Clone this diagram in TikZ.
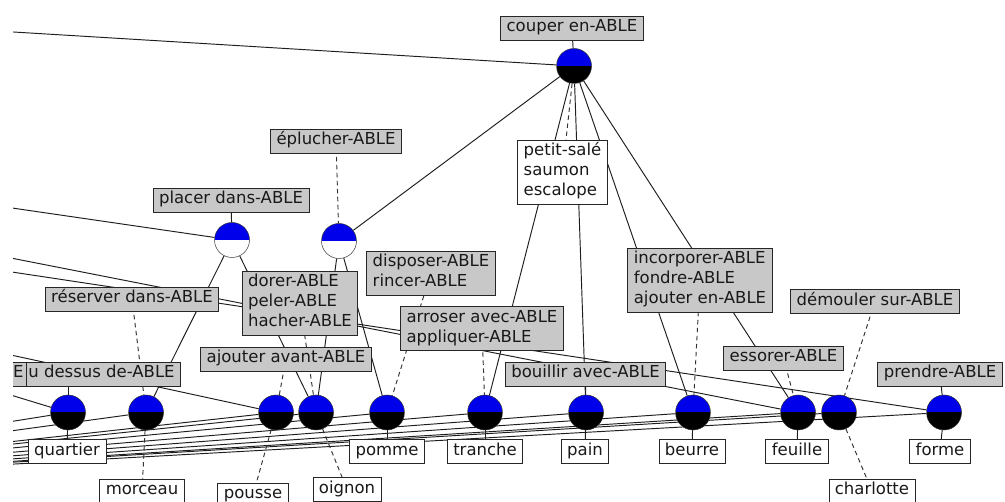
\documentclass[tikz,border=0pt]{standalone}
\usepackage{fontspec}
\setmainfont{DejaVu Sans}
\newcommand\lblfont{\fontsize{16.5}{20}\selectfont}
\definecolor{lblgray}{RGB}{200,200,200}
\definecolor{ballblue}{RGB}{0,0,235}
\definecolor{edgecol}{RGB}{30,30,30}
\pgfdeclarelayer{back}
\pgfdeclarelayer{edges}
\pgfsetlayers{back,edges,main}
\begin{document}
\begin{tikzpicture}[x=1pt,y=-1pt,
  edge/.style={draw=edgecol, line width=0.95pt},
  tick/.style={draw=edgecol, line width=0.95pt},
  dashlink/.style={draw=black!80, line width=0.95pt, dash pattern=on 4.5pt off 3.5pt},
  ball/.style={circle, minimum size=35pt, inner sep=0pt, draw=black!80, line width=0.5pt,
     path picture={\fill[ballblue] (path picture bounding box.west) rectangle (path picture bounding box.north east);
                   \fill[#1] (path picture bounding box.west) rectangle (path picture bounding box.south east);}},
  lbl/.style={draw=black!85, line width=0.8pt, font=\lblfont, text=black!90, align=left, inner xsep=6pt, inner ysep=2pt},
  attr/.style={lbl, fill=lblgray},
  obj/.style={lbl, fill=white}]
\useasboundingbox (0,0) rectangle (1005,502);
\begin{pgfonlayer}{back}
\fill[white] (0,0) rectangle (1005,502);
\end{pgfonlayer}
\begin{scope}
\clip (13,0) rectangle (1005,502);
% off-screen concepts
\coordinate (T1) at (-300,13);
\coordinate (T2) at (-300,162.6);
\coordinate (T3) at (-300,197);
\coordinate (T4) at (-300,225);
\coordinate (T5) at (-300,287.6);
\coordinate (T6) at (-300,300.3);
\coordinate (B) at (-400,487);
% concepts
\node[ball=black] (cCouper) at (574,66) {};
\node[ball=white] (cPlacer) at (232,240) {};
\node[ball=white] (cEpl) at (339,241) {};
\node[ball=black] (cQuartier) at (68,412.5) {};
\node[ball=black] (cMorceau) at (146,412.5) {};
\node[ball=black] (cPousse) at (276,412.5) {};
\node[ball=black] (cOignon) at (316,412.5) {};
\node[ball=black] (cPomme) at (387,412.5) {};
\node[ball=black] (cTranche) at (485,412.5) {};
\node[ball=black] (cPain) at (586,412.5) {};
\node[ball=black] (cBeurre) at (693,412.5) {};
\node[ball=black] (cFeuille) at (798,412.5) {};
\node[ball=black] (cCharlotte) at (839,412.5) {};
\node[ball=black] (cForme) at (944,412.5) {};
% attribute labels
\node[attr] (aCouper) at (572,28) {\strut couper en-ABLE};
\node[attr] (aEpl) at (336,141) {\strut éplucher-ABLE};
\node[attr] (aPlacer) at (231,200) {\strut placer dans-ABLE};
\node[attr] (aReserver) at (132,299) {\strut réserver dans-ABLE};
\node[attr] (aDorer) at (300,303) {\strut dorer-ABLE\\\strut peler-ABLE\\\strut hacher-ABLE};
\node[attr] (aAjAvant) at (286,359) {\strut ajouter avant-ABLE};
\node[attr] (aDisposer) at (431,273) {\strut disposer-ABLE\\\strut rincer-ABLE};
\node[attr] (aArroser) at (482,328.5) {\strut arroser avec-ABLE\\\strut appliquer-ABLE};
\node[attr] (aBouillir) at (585.5,374) {\strut bouillir avec-ABLE};
\node[attr] (aIncorp) at (700,280) {\strut incorporer-ABLE\\\strut fondre-ABLE\\\strut ajouter en-ABLE};
\node[attr] (aDemouler) at (875,301.5) {\strut démouler sur-ABLE};
\node[attr] (aEssorer) at (783.5,358) {\strut essorer-ABLE};
\node[attr] (aPrendre) at (940,374) {\strut prendre-ABLE};
\node[attr, anchor=west] (aDessus) at (22,374) {\strut u dessus de-ABLE};
\node[attr, anchor=east, inner xsep=3pt] (aE) at (27,374) {\strut E};
% object labels
\node[obj] (oPetit) at (562.5,172) {\strut petit-salé\\\strut saumon\\\strut escalope};
\node[obj] (oQuartier) at (67,451.5) {\strut quartier};
\node[obj] (oMorceau) at (142,491) {\strut morceau};
\node[obj] (oPousse) at (253,495) {\strut pousse};
\node[obj] (oOignon) at (347,489.5) {\strut oignon};
\node[obj] (oPomme) at (387,451.5) {\strut pomme};
\node[obj] (oTranche) at (485,451.5) {\strut tranche};
\node[obj] (oPain) at (585,451.5) {\strut pain};
\node[obj] (oBeurre) at (692,451.5) {\strut beurre};
\node[obj] (oFeuille) at (797,451.5) {\strut feuille};
\node[obj] (oForme) at (940,451.5) {\strut forme};
\node[obj] (oCharlotte) at (872,491) {\strut charlotte};
\end{scope}
\begin{pgfonlayer}{edges}
\begin{scope}
\clip (13,0) rectangle (1005,502);
% lattice edges
\draw[edge] (T1) -- (cCouper);
\draw[edge] (T2) -- (cPlacer);
\draw[edge] (T3) -- (cFeuille);
\draw[edge] (T4) -- (cForme);
\draw[edge] (T5) -- (cPousse);
\draw[edge] (T6) -- (cQuartier);
\foreach \n in {cQuartier,cMorceau,cPousse,cOignon,cPomme,cTranche,cPain,cBeurre,cFeuille,cCharlotte,cForme}
  \draw[edge] (B) -- (\n);
\foreach \n in {cEpl,cTranche,cPain,cBeurre,cFeuille}
  \draw[edge] (cCouper) -- (\n);
\draw[edge] (cPlacer) -- (cMorceau);
\draw[edge] (cPlacer) -- (cOignon);
\draw[edge] (cEpl) -- (cOignon);
\draw[edge] (cEpl) -- (cPomme);
% label links
\draw[tick] (aCouper) -- (cCouper);
\draw[tick] (aPlacer) -- (cPlacer);
\draw[tick] (aBouillir) -- (cPain);
\draw[tick] (aPrendre) -- (cForme);
\draw[tick] (cQuartier) -- (cQuartier |- aDessus.south);
\foreach \n/\m in {cQuartier/oQuartier,cPomme/oPomme,cTranche/oTranche,cPain/oPain,cBeurre/oBeurre,cFeuille/oFeuille,cForme/oForme}
  \draw[tick] (\n) -- (\m);
\foreach \a/\c in {aEpl/cEpl,aReserver/cMorceau,aDorer/cOignon,aAjAvant/cPousse,aDisposer/cPomme,aArroser/cTranche,aIncorp/cBeurre,aDemouler/cCharlotte,aEssorer/cFeuille}
  \draw[dashlink] (\a.center) -- (\c);
\foreach \c/\o in {cMorceau/oMorceau,cPousse/oPousse,cOignon/oOignon,cCharlotte/oCharlotte,cCouper/oPetit}
  \draw[dashlink] (\c) -- (\o);
\end{scope}
\end{pgfonlayer}
\end{tikzpicture}
\end{document}
